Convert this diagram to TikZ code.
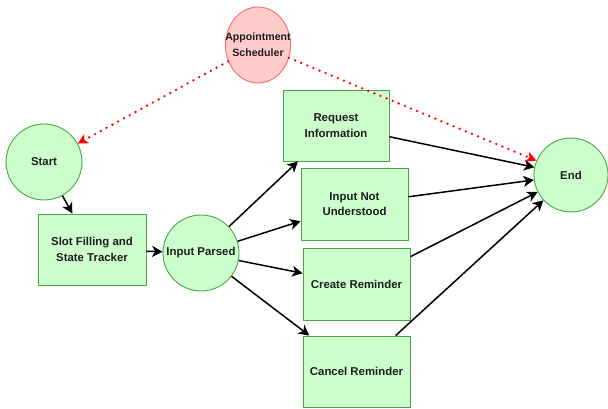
\documentclass[tikz,border=0pt]{standalone}
\usepackage{fontspec}
\setmainfont{Liberation Sans}
\usetikzlibrary{arrows.meta,shapes.geometric}
\definecolor{gfill}{HTML}{CCFFCC}
\definecolor{gline}{HTML}{45A845}
\definecolor{rfill}{HTML}{FFCCCC}
\definecolor{rline}{HTML}{F26A6A}
\definecolor{txt}{HTML}{1E1E1E}
\begin{document}
\begin{tikzpicture}[x=1pt,y=-1pt,
  every node/.style={font=\bfseries\fontsize{11.4}{15.5}\selectfont, text=txt, align=center, inner sep=0pt},
  gcirc/.style={circle, draw=gline, fill=gfill, line width=0.9pt},
  gbox/.style={rectangle, draw=gline, fill=gfill, line width=0.9pt, minimum width=107pt, minimum height=72pt},
  rcirc/.style={ellipse, draw=rline, fill=rfill, line width=0.9pt, inner xsep=-10pt, inner ysep=0pt, minimum width=65pt, minimum height=76pt},
  flow/.style={draw=black, line width=1.5pt, -{Stealth[length=10.5pt,width=11pt,inset=3pt]}},
  redflow/.style={draw=red, line width=2.6pt, line cap=round, dash pattern=on 0pt off 6.6pt, -{Stealth[length=10pt,width=10pt,inset=2.5pt,line cap=butt]}}
]
\useasboundingbox (0,0) rectangle (608,409);
\node[rcirc, font=\bfseries\fontsize{10.6}{16}\selectfont] (app) at (258,45) {Appointment\\Scheduler};
\node[gcirc, minimum size=76pt] (start) at (44,162) {Start};
\node[gbox, minimum width=108pt, minimum height=71pt] (slot) at (92,249.5) {Slot Filling and\\State Tracker};
\node[gcirc, minimum size=76pt] (ip) at (201,253) {Input Parsed};
\node[gbox, minimum width=106pt, minimum height=71pt] (req) at (336,125.5) {Request\\Information};
\node[gbox] (inu) at (354.5,204) {Input Not\\Understood};
\node[gbox] (cre) at (356.5,284) {Create Reminder};
\node[gbox, minimum height=71pt] (can) at (356.5,371.5) {Cancel Reminder};
\node[gcirc, minimum size=74pt] (end) at (571,175) {End};

\draw[flow] (start) -- (slot);
\draw[flow] (slot) -- (ip);
\draw[flow] (ip) -- (req);
\draw[flow] (ip) -- (inu);
\draw[flow] (ip) -- (cre);
\draw[flow] (ip) -- (can);
\draw[flow] (req) -- (end);
\draw[flow] (inu) -- (end);
\draw[flow] (cre) -- (end);
\draw[flow] (can) -- (end);
\draw[redflow] (app) -- (start);
\draw[redflow] (app) -- (end);
\end{tikzpicture}
\end{document}
